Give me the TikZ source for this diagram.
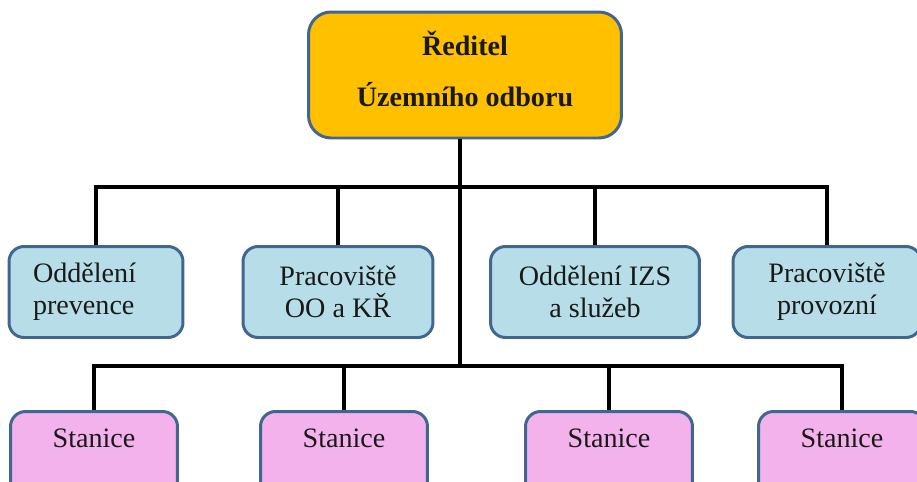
\documentclass[tikz,border=0pt]{standalone}
\usepackage{fontspec}
\setmainfont{Liberation Serif}
\definecolor{headfill}{HTML}{FFC000}
\definecolor{deptfill}{HTML}{B7DEE8}
\definecolor{stanfill}{HTML}{F4B2EC}
\definecolor{frame}{HTML}{41668F}

\begin{document}
\begin{tikzpicture}[x=0.02cm, y=-0.02cm,
    box/.style={draw=frame, line width=1.7pt, rounded corners=0.3cm, inner sep=0pt,
      text=black!90, font=\fontsize{16}{18}\selectfont},
    head/.style={box, fill=headfill, rounded corners=0.45cm, minimum width=6.26cm,
      minimum height=2.52cm, align=center, font=\fontsize{16}{18}\selectfont\bfseries},
    dept/.style={box, fill=deptfill, minimum height=1.82cm, align=center},
    stan/.style={box, fill=stanfill, minimum width=3.34cm, text height=0.72cm, text depth=1.3cm},
    link/.style={line width=2.3pt}]
    \useasboundingbox (0,0) rectangle (917,481);
    \clip (0,0) rectangle (917,481);

      \node[head] (dir) at (465,75) {Ředitel\\[11pt]Územního odboru\\[-11pt]\mbox{}};

      \node[dept, align=left, text width=2.52cm, inner xsep=0.48cm] (a1) at (96,292) {Oddělení\\prevence};
      \node[dept, minimum width=3.8cm] (a2) at (338,292) {Pracoviště\\OO a KŘ};
      \node[dept, minimum width=4.18cm] (a3) at (595,292) {Oddělení IZS\\a služeb};
      \node[dept, minimum width=3.76cm] (a4) at (827,292) {Pracoviště\\provozní};

      \node[stan] (s1) at (94,462) {Stanice};
      \node[stan] (s2) at (344,462) {Stanice};
      \node[stan] (s3) at (609,462) {Stanice};
      \node[stan] (s4) at (842,462) {Stanice};

      \coordinate (bus1) at (460,187);
      \coordinate (bus2) at (460,366);

      \draw[link] (dir.south -| bus1) |- (bus1 -| a1) -- (a1.north);
      \draw[link] (dir.south -| bus1) |- (bus1 -| a2) -- (a2.north);
      \draw[link] (dir.south -| bus1) |- (bus1 -| a3) -- (a3.north);
      \draw[link] (dir.south -| bus1) |- (bus1 -| a4) -- (a4.north);

      \draw[link] (dir.south -| bus1) |- (bus2 -| s1) -- (s1.north);
      \draw[link] (dir.south -| bus1) |- (bus2 -| s2) -- (s2.north);
      \draw[link] (dir.south -| bus1) |- (bus2 -| s3) -- (s3.north);
      \draw[link] (dir.south -| bus1) |- (bus2 -| s4) -- (s4.north);

    \end{tikzpicture}
\end{document}
